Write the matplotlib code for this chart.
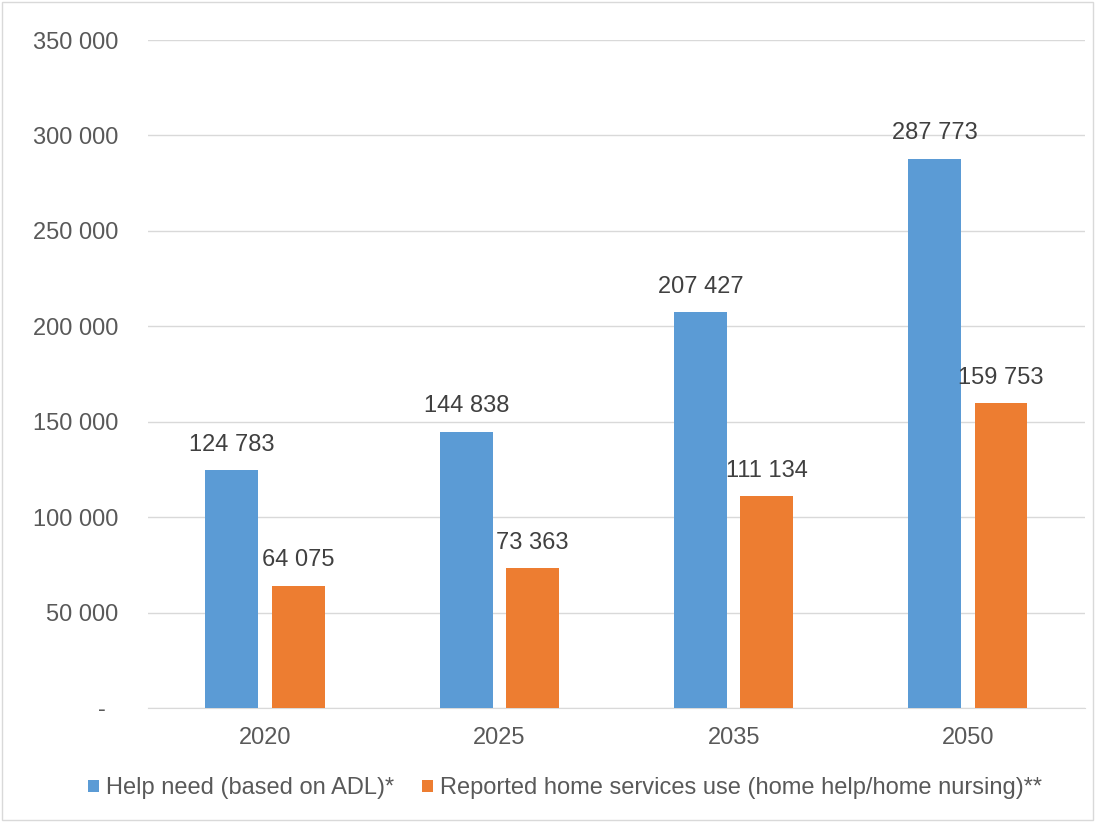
import matplotlib.pyplot as plt
import numpy as np
from matplotlib.patches import Rectangle

plt.rcParams['font.family'] = ['Liberation Sans', 'DejaVu Sans']

years = ['2020', '2025', '2035', '2050']
help_need = [124783, 144838, 207427, 287773]
home_services = [64075, 73363, 111134, 159753]
series_names = ['Help need (based on ADL)*',
                'Reported home services use (home help/home nursing)**']
yticks = [0, 50000, 100000, 150000, 200000, 250000, 300000, 350000]


def fmt(v):
    # space as thousands separator, "-" for zero (accounting style)
    if v == 0:
        return '-  '
    return f'{v:,.0f}'.replace(',', ' ')


fig = plt.figure(figsize=(10.95, 8.22), dpi=100)
ax = fig.add_axes([0.135, 0.1387, 0.856, 0.8126])

x = np.arange(len(years))
w = 0.226
off = 0.141
b1 = ax.bar(x - off, help_need, w, color='#5B9BD5', label=series_names[0], zorder=3)
b2 = ax.bar(x + off, home_services, w, color='#ED7D31', label=series_names[1], zorder=3)

for bars, vals in ((b1, help_need), (b2, home_services)):
    for r, v in zip(bars, vals):
        ax.text(r.get_x() + r.get_width() / 2, v + 7500, fmt(v),
                ha='center', va='bottom', fontsize=17, color='#404040')

ax.set_xlim(-0.5, len(years) - 0.5)
ax.set_ylim(0, 350000)
ax.set_yticks(yticks)
ax.set_yticklabels([fmt(t) for t in yticks])
ax.set_xticks(x)
ax.set_xticklabels(years)
ax.tick_params(axis='both', length=0, labelsize=17, labelcolor='#595959')
ax.tick_params(axis='y', pad=21)
ax.tick_params(axis='x', pad=14)
ax.grid(axis='y', color='#D9D9D9', linewidth=1, zorder=0)
for s in ['top', 'right', 'left']:
    ax.spines[s].set_visible(False)
ax.spines['bottom'].set_color('#D9D9D9')

fig.legend(loc='center', bbox_to_anchor=(0.516, 0.041), ncol=2, frameon=False,
           fontsize=17, handlelength=0.45, handleheight=0.45, handletextpad=0.3,
           columnspacing=1.2, labelcolor='#595959')

fig.patches.append(Rectangle((0.002, 0.002), 0.996, 0.996, transform=fig.transFigure,
                             fill=False, edgecolor='#D9D9D9', linewidth=1))

fig.savefig('out.png', dpi=100)
